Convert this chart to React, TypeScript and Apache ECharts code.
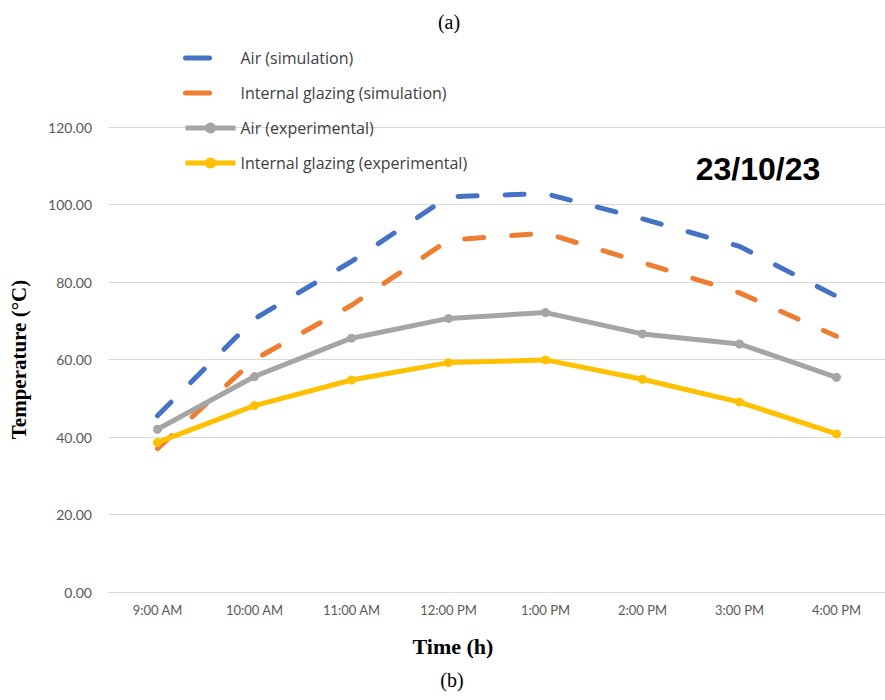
import React, { useEffect, useRef } from "react";
import * as echarts from "echarts";

const categories = ["9:00 AM", "10:00 AM", "11:00 AM", "12:00 PM", "1:00 PM", "2:00 PM", "3:00 PM", "4:00 PM"];
const airSimulation = [45.5, 70.5, 85.3, 102.0, 102.8, 96.3, 89.2, 76.3];
const glazingSimulation = [37.0, 60.0, 74.0, 90.8, 92.6, 85.0, 77.2, 66.0];
const airExperimental = [42.0, 55.6, 65.5, 70.6, 72.1, 66.6, 64.0, 55.4];
const glazingExperimental = [38.6, 48.1, 54.7, 59.2, 59.9, 54.9, 49.0, 40.8];
const yTicks = { min: 0, max: 120, interval: 20 };

export default function App() {
  const ref = useRef<HTMLDivElement>(null);
  useEffect(() => {
    if (!ref.current) return;
    const chart = echarts.init(ref.current, null, { renderer: "svg" });
    const dash = [19, 28];
    const legendDash = { type: [24, 200], cap: "round", width: 5 };
    const hiddenDot = { color: "rgba(0,0,0,0)", borderWidth: 0 };
    const legendSolid = { width: 5, type: "solid" };
    chart.setOption({
      animation: false,
      backgroundColor: "#ffffff",
      grid: { left: 106, right: 0, top: 127, bottom: 108, containLabel: false },
      legend: {
        orient: "vertical",
        left: 183,
        top: 50,
        padding: 0,
        itemWidth: 50,
        itemHeight: 14,
        itemGap: 19,
        textStyle: { fontFamily: "Open Sans", fontSize: 16, color: "#404040" },
        data: [
          { name: "Air (simulation)", itemStyle: hiddenDot, lineStyle: legendDash },
          { name: "Internal glazing (simulation)", itemStyle: hiddenDot, lineStyle: legendDash },
          { name: "Air (experimental)", lineStyle: legendSolid },
          { name: "Internal glazing (experimental)", lineStyle: legendSolid },
        ],
      },
      xAxis: {
        type: "category",
        data: categories,
        boundaryGap: true,
        axisLine: { show: true, lineStyle: { color: "#d9d9d9", width: 1 } },
        axisTick: { show: false },
        axisLabel: { fontFamily: "Lato", fontSize: 13, color: "#595959", margin: 11 },
      },
      yAxis: {
        type: "value",
        min: yTicks.min,
        max: yTicks.max,
        interval: yTicks.interval,
        axisLine: { show: false },
        axisTick: { show: false },
        splitLine: { lineStyle: { color: "#d9d9d9", width: 1 } },
        axisLabel: {
          fontFamily: "Lato",
          fontSize: 14,
          color: "#595959",
          margin: 17,
          formatter: (v: number) => v.toFixed(2),
        },
        name: "Temperature (°C)",
        nameLocation: "middle",
        nameGap: 80,
        nameTextStyle: { fontFamily: "Liberation Serif", fontWeight: "bold", fontSize: 21, color: "#000" },
      },
      graphic: [
        {
          type: "text",
          x: 449,
          y: 22,
          style: { text: "(a)", fontFamily: "Liberation Serif", fontSize: 20, fill: "#000", align: "center", verticalAlign: "middle" },
        },
        {
          type: "text",
          x: 452,
          y: 680,
          style: { text: "(b)", fontFamily: "Liberation Serif", fontSize: 20, fill: "#000", align: "center", verticalAlign: "middle" },
        },
        {
          type: "text",
          x: 453,
          y: 646,
          style: {
            text: "Time (h)",
            fontFamily: "Liberation Serif",
            fontWeight: "bold",
            fontSize: 22,
            fill: "#000",
            align: "center",
            verticalAlign: "middle",
          },
        },
        {
          type: "text",
          x: 758,
          y: 169,
          style: {
            text: "23/10/23",
            fontFamily: "Liberation Sans",
            fontWeight: "bold",
            fontSize: 32,
            fill: "#000",
            align: "center",
            verticalAlign: "middle",
          },
        },
      ],
      series: [
        {
          name: "Air (simulation)",
          type: "line",
          data: airSimulation,
          showSymbol: false,
          symbol: "circle",
          lineStyle: { color: "#4472c4", width: 5, type: dash, cap: "round" },
          itemStyle: { color: "#4472c4" },
          z: 4,
        },
        {
          name: "Internal glazing (simulation)",
          type: "line",
          data: glazingSimulation,
          showSymbol: false,
          symbol: "circle",
          lineStyle: { color: "#ed7d31", width: 5, type: dash, cap: "round" },
          itemStyle: { color: "#ed7d31" },
          z: 3,
        },
        {
          name: "Air (experimental)",
          type: "line",
          data: airExperimental,
          symbol: "circle",
          symbolSize: 9,
          lineStyle: { color: "#a5a5a5", width: 5 },
          itemStyle: { color: "#a5a5a5" },
          z: 5,
        },
        {
          name: "Internal glazing (experimental)",
          type: "line",
          data: glazingExperimental,
          symbol: "circle",
          symbolSize: 9,
          lineStyle: { color: "#ffc000", width: 5 },
          itemStyle: { color: "#ffc000" },
          z: 6,
        },
      ],
    });
    return () => chart.dispose();
  }, []);
  return (
    <div
      ref={ref}
      style={{ position: "absolute", left: 0, top: 0, width: 885, height: 700, background: "#fff" }}
    />
  );
}
